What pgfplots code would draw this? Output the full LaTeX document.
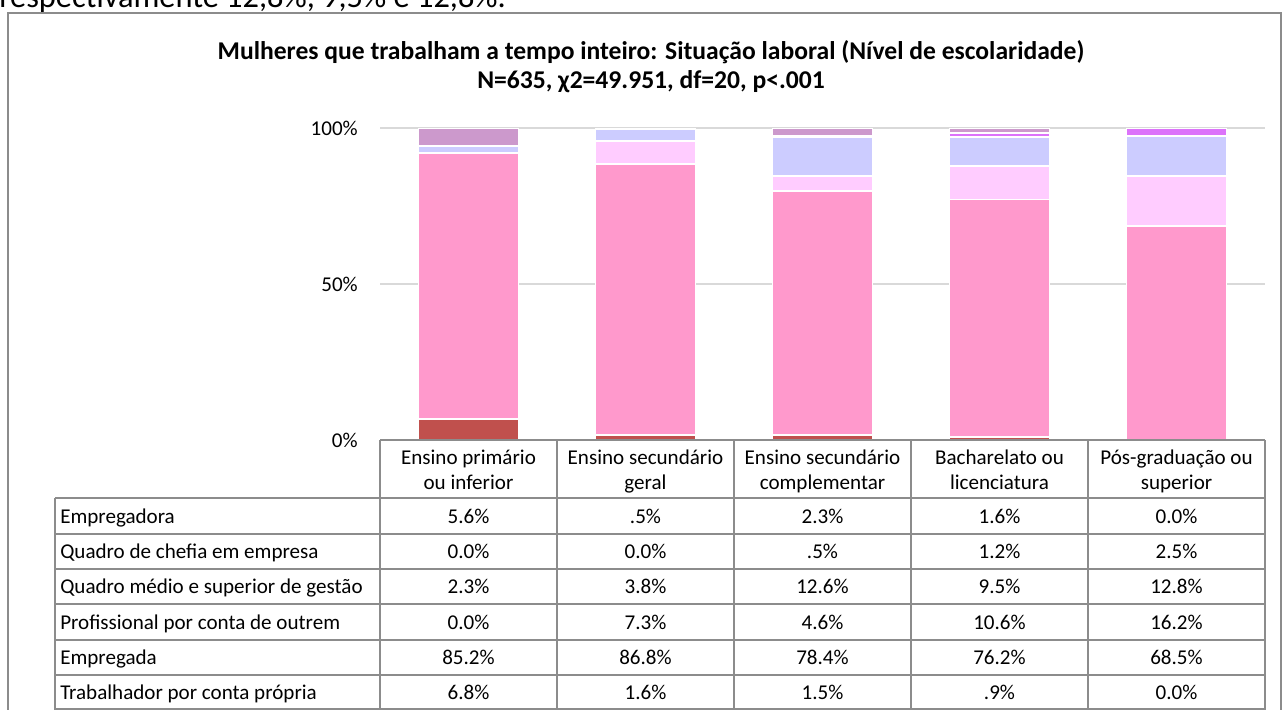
\documentclass[border=0pt]{standalone}
\usepackage{fontspec}
\setmainfont{Carlito}
\usepackage{pgfplots}
\pgfplotsset{compat=1.18}
\definecolor{cTrab}{HTML}{C0504D}
\definecolor{cEmpg}{HTML}{FF99CC}
\definecolor{cProf}{HTML}{FFCCFF}
\definecolor{cQmed}{HTML}{CCCCFF}
\definecolor{cChef}{HTML}{DC73FA}
\definecolor{cEmpr}{HTML}{CC99CC}
\definecolor{gridgray}{HTML}{D9D9D9}
\definecolor{tabgray}{HTML}{8C8C8C}
\begin{document}
\begin{tikzpicture}[x=0.75pt,y=-0.75pt]
\useasboundingbox (0,0) rectangle (1282,710);
\node[anchor=base west, inner sep=0pt, font=\fontsize{24.3}{28}\selectfont] at (-1,8) {respectivamente 12,8\%, 9,5\% e 12,8\%.};
\draw[tabgray, line width=0.9pt] (8,13) rectangle (1281,740);
\node[anchor=base, inner sep=0pt, font=\fontsize{19.2}{22}\selectfont\bfseries] at (651,60) {Mulheres que trabalham a tempo inteiro: Situação laboral (Nível de escolaridade)};
\node[anchor=base, inner sep=0pt, font=\fontsize{19.2}{22}\selectfont\bfseries] at (651,89) {N=635, χ2=49.951, df=20, p<.001};
\begin{axis}[at={(285pt,-330pt)}, anchor=south west, scale only axis,
  width=663.75pt, height=234pt,
  xmin=-0.5, xmax=4.5, ymin=0, ymax=100,
  ybar stacked, bar width=75pt,
  axis line style={draw=none}, tick style={draw=none},
  xtick=\empty, ytick={0,50,100}, yticklabels={0\%,50\%,100\%},
  yticklabel style={font=\fontsize{15.8}{18}\selectfont, inner sep=0pt, anchor=east, xshift=-16.5pt},
  ymajorgrids, grid style={color=gridgray, line width=1.1pt},
  every axis plot/.append style={draw=white, line width=1.4pt}]
\addplot[fill=cTrab] coordinates {(0,6.8) (1,1.6) (2,1.5) (3,0.9) (4,0.0)};
\addplot[fill=cEmpg] coordinates {(0,85.2) (1,86.8) (2,78.4) (3,76.2) (4,68.5)};
\addplot[fill=cProf] coordinates {(0,0.0) (1,7.3) (2,4.6) (3,10.6) (4,16.2)};
\addplot[fill=cQmed] coordinates {(0,2.3) (1,3.8) (2,12.6) (3,9.5) (4,12.8)};
\addplot[fill=cChef] coordinates {(0,0.0) (1,0.0) (2,0.5) (3,1.2) (4,2.5)};
\addplot[fill=cEmpr] coordinates {(0,5.6) (1,0.5) (2,2.3) (3,1.6) (4,0.0)};
\end{axis}
% data table
\begin{scope}[tabgray, line width=1.1pt]
\draw (380,440) -- (1265,440);
\foreach \yy in {498,534,569,604,640,675,709} \draw (55,\yy) -- (1265,\yy);
\draw (55,498) -- (55,712);
\foreach \xx in {380,557,734,911,1088,1265} \draw (\xx,440) -- (\xx,712);
\end{scope}
\begin{scope}[every node/.style={inner sep=0pt, anchor=base, font=\fontsize{15.8}{18}\selectfont}]
\node at (468.5,464) {Ensino primário}; \node at (468.5,489) {ou inferior};
\node at (645.5,464) {Ensino secundário}; \node at (645.5,489) {geral};
\node at (822.5,464) {Ensino secundário}; \node at (822.5,489) {complementar};
\node at (999.5,464) {Bacharelato ou}; \node at (999.5,489) {licenciatura};
\node at (1176.5,464) {Pós-graduação ou}; \node at (1176.5,489) {superior};
\node[anchor=base west] at (60,523) {Empregadora};
\node[anchor=base west] at (60,558.5) {Quadro de chefia em empresa};
\node[anchor=base west] at (60,593.5) {Quadro médio e superior de gestão};
\node[anchor=base west] at (60,629) {Profissional por conta de outrem};
\node[anchor=base west] at (60,664.5) {Empregada};
\node[anchor=base west] at (60,699.5) {Trabalhador por conta própria};
\foreach \v [count=\i from 0] in {5.6\%,.5\%,2.3\%,1.6\%,0.0\%} \node at (468.5+177*\i,523) {\v};
\foreach \v [count=\i from 0] in {0.0\%,0.0\%,.5\%,1.2\%,2.5\%} \node at (468.5+177*\i,558.5) {\v};
\foreach \v [count=\i from 0] in {2.3\%,3.8\%,12.6\%,9.5\%,12.8\%} \node at (468.5+177*\i,593.5) {\v};
\foreach \v [count=\i from 0] in {0.0\%,7.3\%,4.6\%,10.6\%,16.2\%} \node at (468.5+177*\i,629) {\v};
\foreach \v [count=\i from 0] in {85.2\%,86.8\%,78.4\%,76.2\%,68.5\%} \node at (468.5+177*\i,664.5) {\v};
\foreach \v [count=\i from 0] in {6.8\%,1.6\%,1.5\%,.9\%,0.0\%} \node at (468.5+177*\i,699.5) {\v};
\end{scope}
\end{tikzpicture}
\end{document}
